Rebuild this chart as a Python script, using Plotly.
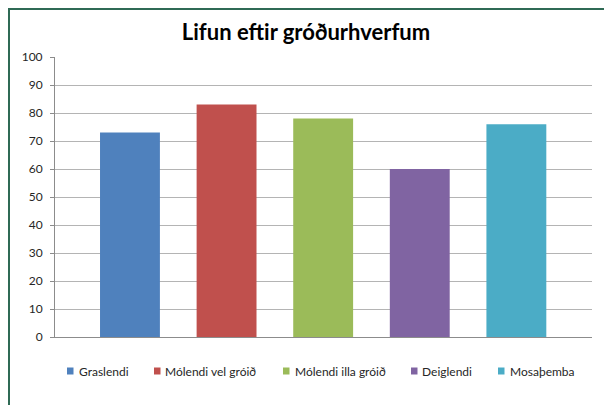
import plotly.graph_objects as go

title = "Lifun eftir gróðurhverfum"
categories = ["Graslendi", "Mólendi vel gróið", "Mólendi illa gróið", "Deiglendi", "Mosaþemba"]
values = [73, 83, 78, 60, 76]
colors = ["#4f81bd", "#c0504d", "#9bbb59", "#8064a2", "#4bacc6"]
y_ticks = [0, 10, 20, 30, 40, 50, 60, 70, 80, 90, 100]

W, H = 604, 405
L, R, T, B = 55, 12, 57, 68
PW, PH = W - L - R, H - T - B

def px(x):
    return (x - L) / PW

def py(y):
    return (H - B - y) / PH

FONT = "Lato, 'Open Sans', sans-serif"

fig = go.Figure()
for i, (cat, v, c) in enumerate(zip(categories, values, colors)):
    fig.add_trace(go.Bar(x=[i], y=[v], name=cat, marker=dict(color=c, line=dict(width=0)),
                         width=0.62, showlegend=False))

fig.update_layout(
    width=W, height=H,
    margin=dict(l=L, r=R, t=T, b=B),
    paper_bgcolor="white", plot_bgcolor="white",
    barmode="overlay",
    title=dict(text="<b>" + title + "</b>", x=306 / W, xanchor="center", y=1 - 32 / H, yanchor="middle",
               font=dict(family=FONT, size=22, color="#000000")),
    xaxis=dict(range=[-0.776, 4.783], showticklabels=False, showgrid=False, zeroline=False,
               showline=True, linecolor="#8c8c8c", linewidth=1, ticks=""),
    yaxis=dict(range=[0, 100], tickvals=y_ticks, showgrid=True, gridcolor="#b4b4b4", gridwidth=1,
               zeroline=False, showline=True, linecolor="#8c8c8c", linewidth=1,
               ticks="outside", ticklen=4, tickcolor="#8c8c8c", ticklabelstandoff=5,
               tickfont=dict(family=FONT, size=12, color="#262626")),
)

# chart frame
fig.add_shape(type="rect", xref="paper", yref="paper", x0=px(9), x1=px(640), y0=py(9), y1=py(440),
              line=dict(color="#2f6a55", width=2), fillcolor="rgba(0,0,0,0)", layer="below")

# custom legend
sq_left = [67, 154, 283, 411, 498]
txt_left = [77, 163, 293, 420, 508]
ly = 371
for cat, c, sx, tx in zip(categories, colors, sq_left, txt_left):
    fig.add_shape(type="rect", xref="paper", yref="paper", x0=px(sx), x1=px(sx + 6.5),
                  y0=py(ly - 3.5), y1=py(ly + 3.5), line=dict(width=0), fillcolor=c)
    fig.add_annotation(text=cat, xref="paper", yref="paper", x=px(tx), y=py(ly), xanchor="left",
                       yanchor="middle", showarrow=False, font=dict(family=FONT, size=12, color="#262626"))

fig.write_html("out.html", config={"displayModeBar": False},
               post_script="document.body.style.margin='0';document.body.style.overflow='hidden';")
